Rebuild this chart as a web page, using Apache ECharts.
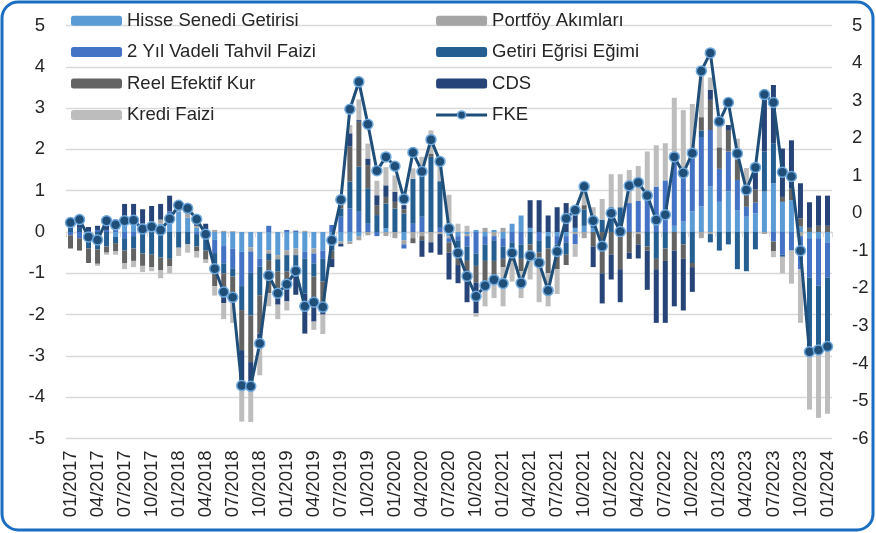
<!DOCTYPE html>
<html>
<head>
<meta charset="utf-8">
<script src="https://cdn.jsdelivr.net/npm/echarts@6/dist/echarts.min.js"></script>
<style>
  html, body { margin: 0; padding: 0; background: #fff; }
  #echarts { width: 876px; height: 533px; }
</style>
</head>
<body>
<div id="echarts"></div>
<script>
// aylar: 01/2017 - 01/2024
var months = [];
for (var y = 2017; y <= 2024; y++) {
  for (var m = 1; m <= 12; m++) {
    if (y == 2024 && m > 1) break;
    months.push((m < 10 ? '0' + m : m) + '/' + y);
  }
}

var names = ['Hisse Senedi Getirisi', 'Portföy Akımları', '2 Yıl Vadeli Tahvil Faizi', 'Getiri Eğrisi Eğimi',
  'Reel Efektif Kur', 'CDS', 'Kredi Faizi', 'FKE'];

var hisse = [0, 0, 0, 0, 0, -0.12, 0.3, 0.3, 0.15, 0.2, 0.2, 0.3,
  0.5, 0.35, 0.1, 0.05, -0.19, -0.34, -0.4, -0.48, -0.37, -0.64, -0.44, -0.56,
  -0.44, -0.4, -0.48, -0.4, -0.45, -0.3, -0.23, -0.23, -0.1, 0, 0, 0.09,
  0, -0.2, 0, 0, 0, 0, -0.1, -0.1, -0.05, 0.05, -0.1, 0.05,
  -0.15, 0.2, 0.4, 0.1, 0, -0.1, -0.1, -0.1, 0.1, 0.15, 0.1, 0,
  0, -0.1, 0, 0, 0, 0, 0, 0.15, 0.25, 0.5, 0.62, 1.1,
  0.73, 0.98, 0.53, 0.37, 0.45, 0.98, 1.18, 0.73, 0.77, 0.13, -0.15, -0.15,
  -0.25];
var portfoy = [0, 0, 0, 0, 0, 0, 0, 0, 0, 0, 0.1, 0.05,
  0.15, 0.1, 0.05, 0, 0.05, 0.03, 0.02, 0, -0.1, 0, -0.08, -0.1,
  -0.12, -0.16, 0.03, -0.12, 0, 0, -0.06, -0.06, -0.1, -0.08, 0, -0.1,
  -0.15, -0.1, -0.15, -0.1, -0.25, -0.05, -0.05, 0, -0.05, 0, 0.1, -0.1,
  0.1, 0, 0, 0, 0, 0, 0, 0, -0.05, -0.15, 0, 0,
  0, 0, 0, -0.05, 0, 0, 0, 0, 0, 0, -0.15, -0.05,
  0, 0, 0, 0, 0, -0.05, 0, 0, 0, -0.1, 0, 0,
  0];
var tahvil = [-0.08, -0.15, -0.1, 0.05, 0.05, 0.1, -0.15, -0.1, 0.05, 0.05, 0, 0.15,
  0.05, 0.05, -0.05, -0.05, -0.32, -0.42, -0.48, -0.83, -0.52, -0.2, 0.15, 0,
  0.05, 0.03, -0.16, -0.24, -0.2, 0.17, 0.37, 0.57, 0.49, 0.2, -0.1, 0,
  0, -0.1, 0.2, 0.37, 0, 0.1, -0.1, -0.1, -0.25, -0.52, -0.2, -0.1,
  -0.2, -0.25, -0.3, 0, -0.2, 0, -0.2, -0.15, -0.25, 0, 0, 0,
  0, 0, 0.7, 0.75, 1.0, 1.1, 1.25, 1.7, 1.3, 1.5, 1.68, 1.37,
  0.8, 0.97, 0.73, 0.24, 0.26, 0, -0.23, -0.55, -0.45, -0.8, -0.95, -1.15,
  -0.85];
var egim = [0.1, 0.1, -0.3, -0.42, -0.35, -0.15, -0.3, -0.3, -0.52, -0.55, -0.62, -0.65,
  -0.38, -0.3, -0.3, -0.4, -0.48, -0.24, -0.2, -0.58, -1.03, -0.69, -0.16, -0.3,
  -0.4, -0.52, -0.85, -0.32, -0.55, -0.15, 0.2, 0.65, 1.09, 0.86, 0.41, 0.6,
  0.57, 0.45, 1.09, 1.05, 1.82, 1.13, 0.05, -0.3, -0.35, -0.3, -0.4, -0.5,
  -0.3, -0.2, -0.35, -0.3, -0.3, -0.3, -0.3, -0.3, 0, 0.4, 0.3, 0.3,
  0.6, 0.6, 0, 0, -0.35, -0.65, -0.4, 0, -0.3, -0.75, 0.16, -0.2,
  -0.45, -0.3, -0.9, -0.95, -0.42, 0.97, 0.97, -0.05, 0, 0, -1.7, -1.6,
  -1.65];
var reel = [-0.32, -0.3, -0.35, -0.35, -0.15, -0.2, -0.3, -0.3, -0.3, -0.3, -0.3, -0.18,
  0, 0, -0.12, -0.22, -0.32, -0.56, -0.4, -0.97, -1.13, -0.93, -0.8, -0.44,
  -0.28, 0, 0, -0.73, -0.5, -0.2, 0.13, 0.85, 1.09, 0.56, 0.24, 0.16,
  0.16, 0.1, -0.12, -0.1, 0.08, 0, -0.25, -0.3, -0.5, -0.4, -0.5, -0.45,
  -0.2, -0.25, -0.3, -0.3, -0.3, -0.6, -0.3, -0.25, 0, 0.1, -0.35, -1.0,
  -0.55, -0.8, -0.5, -0.25, -0.1, -0.25, -0.3, -0.45, -0.35, -0.1, 0.32, 0.73,
  0.52, 0.52, 0.5, 0.44, 0.32, 0, -0.24, 0.12, 0.28, 0.2, 0.1, 0.15,
  0.15];
var cds = [0.15, 0.2, 0.12, 0.1, 0.12, 0.2, 0.38, 0.38, 0.35, 0.38, 0.38, 0.38,
  0.02, 0, 0.05, 0.15, 0, -0.16, -0.16, -0.8, -0.58, -0.16, 0, -0.36,
  -0.44, -0.44, -0.97, -0.36, -0.3, -0.2, -0.06, 0.32, 0.04, 0.16, 0.24, 0.28,
  0.24, 0.1, 0, -0.4, -0.25, -0.5, -0.65, -0.44, -0.5, -0.75, 0, 0,
  0, 0, 0, 0.67, 0.77, 0.4, 0.6, 0.7, 0.45, 0, -0.5, -0.73,
  -0.6, -0.8, -0.15, -0.34, -0.95, -1.3, -1.5, -1.35, -1.25, -0.6, 0, 0.24,
  0, 0.12, 0, 0, 0.55, 1.49, 1.41, 1.17, 1.17, 0.85, 0.62, 0.73,
  0.73];
var kredi = [0, 0, 0, -0.05, -0.05, -0.08, -0.15, -0.15, -0.15, -0.1, -0.2, -0.17,
  -0.2, -0.2, -0.15, -0.08, -0.23, -0.39, -0.56, -0.93, -0.87, -0.85, -0.32, -0.35,
  -0.22, 0.02, 0, -0.2, -0.47, 0, 0, 0.2, 0.5, 0.36, 0.35, 0.44,
  0.4, 0, 0.25, 0.4, 0.56, 0.45, 0.85, 0.2, 0.15, -0.08, -0.6, -0.45,
  -0.95, -0.5, -0.65, -0.55, -0.9, -0.8, -0.6, 0, -0.3, 0.45, 0.2, 0.5,
  0.8, 0.8, 0.8, 0.85, 0.95, 1.0, 0.9, 1.4, 1.4, 1.1, 1.0, 0.3,
  0.65, 0, 0.5, 0.5, 0, 0, -0.14, -0.4, -0.8, -1.3, -1.5, -1.6,
  -1.65];
var fke = [-0.25, -0.17, -0.63, -0.71, -0.2, -0.31, -0.2, -0.19, -0.42, -0.36, -0.45, -0.15,
  0.21, 0.13, -0.16, -0.56, -1.48, -2.10, -2.24, -4.59, -4.61, -3.47, -1.66, -2.13,
  -1.89, -1.54, -2.48, -2.37, -2.50, -0.72, 0.36, 2.77, 3.50, 2.37, 1.13, 1.50,
  1.25, 0.38, 1.62, 1.11, 1.96, 1.38, -0.41, -1.06, -1.68, -2.21, -1.93, -1.77,
  -1.87, -1.06, -1.86, -1.13, -1.32, -2.06, -1.02, -0.14, 0.08, 0.71, -0.20, -0.88,
  0.0, -0.49, 0.73, 0.82, 0.47, -0.18, -0.04, 1.50, 1.07, 1.60, 3.79, 4.27,
  2.44, 2.95, 1.59, 0.62, 1.22, 3.16, 2.95, 1.09, 0.98, -1.00, -3.69, -3.64,
  -3.55];

var barData = [hisse, portfoy, tahvil, egim, reel, cds, kredi];
var barColors = ['#5b9bd5', '#a5a5a5', '#4472c4', '#255e91', '#636363', '#264478', '#bdbdbd'];

var font = "'Liberation Sans', Arial, sans-serif";
var txtColor = '#262626';

var series = [];
for (var i = 0; i < barData.length; i++) {
  series.push({
    name: names[i],
    type: 'bar',
    stack: 'toplam',
    barWidth: 5,
    itemStyle: { color: barColors[i] },
    data: barData[i]
  });
}
// FKE sağ eksende
series.push({
  name: 'FKE',
  type: 'line',
  yAxisIndex: 1,
  z: 10,
  symbol: 'circle',
  symbolSize: 10,
  showSymbol: true,
  showAllSymbol: true,
  lineStyle: { color: '#1f4e79', width: 3 },
  itemStyle: { color: '#1f4e79', borderColor: '#6fa8dc', borderWidth: 1.5 },
  data: fke
});

function legendCol(left, data) {
  return {
    orient: 'vertical',
    left: left,
    top: 10.7,
    padding: 0,
    itemWidth: 51,
    itemHeight: 10,
    itemGap: 11.4,
    textStyle: { fontFamily: font, fontSize: 18.5, lineHeight: 20, color: txtColor },
    data: data
  };
}

var option = {
  animation: false,
  backgroundColor: '#fff',
  graphic: [{
    type: 'rect',
    silent: true,
    shape: { x: 2, y: 2, width: 871, height: 528, r: 16 },
    style: { fill: 'none', stroke: '#1b6ec2', lineWidth: 3 }
  }],
  legend: [
    legendCol(71, [names[0], names[2], names[4], names[6]]),
    legendCol(434.6, [names[1], names[3], names[5], {
      name: names[7],
      lineStyle: { width: 3, color: '#1f4e79' },
      itemStyle: { color: '#1f4e79', borderColor: '#6fa8dc', borderWidth: 1.5 }
    }])
  ],
  grid: { left: 66, right: 44, top: 25.5, bottom: 94.5 },
  xAxis: [{
    type: 'category',
    data: months,
    axisLine: { onZero: true, lineStyle: { color: '#d9d9d9', width: 1.3 } },
    axisTick: { show: true, interval: 2, length: 5, lineStyle: { color: '#d9d9d9' } },
    axisLabel: { show: false }
  }, {
    type: 'category',
    data: months,
    position: 'bottom',
    axisLine: { show: false, onZero: false },
    axisTick: { show: false },
    axisLabel: {
      interval: 2,
      rotate: 90,
      margin: 12,
      fontFamily: font,
      fontSize: 18.5,
      color: txtColor
    }
  }],
  yAxis: [{
    type: 'value',
    min: -5,
    max: 5,
    interval: 1,
    axisLine: { show: false },
    axisTick: { show: false },
    splitLine: { lineStyle: { color: '#d9d9d9', width: 1.3 } },
    axisLabel: { margin: 21, fontFamily: font, fontSize: 18.5, color: txtColor }
  }, {
    type: 'value',
    min: -6,
    max: 5,
    interval: 1,
    axisLine: { show: false },
    axisTick: { show: false },
    splitLine: { show: false },
    axisLabel: { margin: 20, fontFamily: font, fontSize: 18.5, color: txtColor }
  }],
  series: series
};

var chart = echarts.init(document.getElementById('echarts'));
chart.setOption(option);
</script>
</body>
</html>
